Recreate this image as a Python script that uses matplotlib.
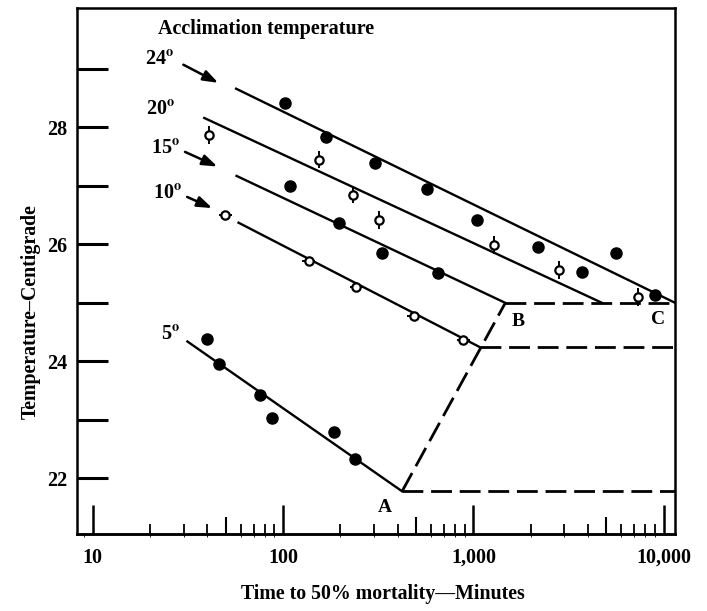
import numpy as np
import matplotlib.pyplot as plt
from matplotlib.ticker import FixedLocator, NullFormatter

plt.rcParams['font.family'] = ['Liberation Serif', 'DejaVu Serif']
plt.rcParams['font.weight'] = 'bold'
plt.rcParams['mathtext.fontset'] = 'stix'

# observed points: time to 50% mortality (min) and temperature (C)
t24 = [102, 169, 303, 570, 1045, 2188, 3740, 5640, 8980]
T24 = [28.41, 27.83, 27.39, 26.94, 26.42, 25.95, 25.53, 25.85, 25.14]
t20 = [41, 155, 232, 318, 1276, 2806, 7330]
T20 = [27.87, 27.45, 26.85, 26.42, 25.99, 25.56, 25.10]
t15 = [109, 197, 330, 649]
T15 = [27.00, 26.37, 25.86, 25.51]
t10 = [49.6, 136, 243, 485, 887]
T10 = [26.51, 25.72, 25.27, 24.78, 24.37]
t5 = [39.7, 46.1, 75.9, 87.3, 186, 239]
T5 = [24.38, 23.95, 23.43, 23.04, 22.79, 22.33]

# fitted lines (start, end)
line24_t, line24_T = [56.6, 11500], [28.66, 25.0]
line20_t, line20_T = [38.5, 4745], [28.16, 25.0]
line15_t, line15_T = [56.9, 1472], [27.17, 25.0]
line10_t, line10_T = [58.3, 1087], [26.37, 24.24]
line5_t, line5_T = [31.4, 422], [24.34, 21.78]

# corner points A, B and the right edge
A = (422, 21.78)
B = (1472, 25.0)
t_end = 11500

acc_labels = ['24', '20', '15', '10', '5']
acc_lab_t = [22.3, 22.6, 24.0, 24.6, 25.5]
acc_lab_T = [29.15, 28.30, 27.63, 26.86, 24.45]
# arrows for 24, 15, 10
arr_t0 = [29.9, 30.5, 31.3]
arr_T0 = [29.07, 27.58, 26.81]
arr_t1 = [45.6, 45.1, 42.4]
arr_T1 = [28.76, 27.33, 26.62]

fig = plt.figure(figsize=(7.07, 6.11), dpi=100)
ax = fig.add_axes([0.109, 0.126, 0.846, 0.861])
ax.set_xscale('log')
ax.set_xlim(8.26, t_end)
ax.set_ylim(21.05, 30.04)

lw = 1.7
for lt, lT in [(line24_t, line24_T), (line20_t, line20_T), (line15_t, line15_T),
               (line10_t, line10_T), (line5_t, line5_T)]:
    ax.plot(lt, lT, color='k', lw=lw, zorder=2)

dash = dict(color='k', lw=2.0, dashes=(7.5, 2.8), zorder=2)
ax.plot([A[0], B[0]], [A[1], B[1]], **dash)
ax.plot([A[0], t_end], [A[1], A[1]], **dash)
ax.plot([line10_t[1], t_end], [line10_T[1], line10_T[1]], **dash)
ax.plot([B[0], t_end], [B[1], B[1]], **dash)

# filled symbols
for tt, TT in [(t24, T24), (t15, T15), (t5, T5)]:
    ax.plot(tt, TT, 'o', color='k', ms=8, zorder=4)

# open symbols with vertical bars (20)
ax.errorbar(t20, T20, yerr=0.15, fmt='o', ms=6, mfc='white', mec='k', mew=1.6,
            ecolor='k', elinewidth=1.4, capsize=0, zorder=4)
# open symbols with horizontal bars (10)
t10a = np.array(t10)
xerr = [t10a - t10a / 10**0.035, t10a * 10**0.035 - t10a]
ax.errorbar(t10, T10, xerr=xerr, fmt='o', ms=6, mfc='white', mec='k', mew=1.6,
            ecolor='k', elinewidth=1.4, capsize=0, zorder=4)

for lab, x, y in zip(acc_labels, acc_lab_t, acc_lab_T):
    ax.text(x, y, lab + r'$^{\mathrm{o}}$', fontsize=14.5, ha='center', va='center')
for x0, y0, x1, y1 in zip(arr_t0, arr_T0, arr_t1, arr_T1):
    ax.annotate('', xy=(x1, y1), xytext=(x0, y0),
                arrowprops=dict(arrowstyle='-|>,head_length=0.9,head_width=0.32',
                                color='k', lw=1.8, shrinkA=0, shrinkB=0))

ax.text(22.0, 29.68, 'Acclimation temperature', fontsize=14.5, ha='left', va='center')
ax.text(344, 21.51, 'A', fontsize=14, ha='center', va='center')
ax.text(1722, 24.68, 'B', fontsize=14, ha='center', va='center')
ax.text(9380, 24.71, 'C', fontsize=14, ha='center', va='center')

# axes styling
for sp in ax.spines.values():
    sp.set_linewidth(1.8)

ax.yaxis.set_major_locator(FixedLocator([22, 24, 26, 28]))
ax.yaxis.set_minor_locator(FixedLocator([23, 25, 27, 29]))
ax.tick_params(axis='y', which='both', direction='in', length=22, width=2.2, pad=7,
               labelsize=14.5)

ax.xaxis.set_major_locator(FixedLocator([10, 100, 1000, 10000]))
ax.set_xticklabels(['10', '100', '1,000', '10,000'])
minors = [m * d for d in (10, 100, 1000) for m in (2, 3, 4, 6, 7, 8, 9)]
ax.xaxis.set_minor_locator(FixedLocator(minors))
ax.xaxis.set_minor_formatter(NullFormatter())
ax.tick_params(axis='x', which='major', direction='in', length=21, width=1.8, pad=10,
               labelsize=14.5)
ax.tick_params(axis='x', which='minor', direction='in', length=7, width=1.3)

sec = ax.secondary_xaxis('bottom')
sec.set_xticks([50, 500, 5000])
sec.set_xticklabels(['', '', ''])
sec.tick_params(axis='x', direction='in', length=12, width=1.5)
sec.spines['bottom'].set_linewidth(1.8)

fig.text(0.044, 0.49, 'Temperature\u2013Centigrade', rotation=90, fontsize=14.3,
         ha='center', va='center')
fig.text(0.542, 0.012, 'Time to 50% mortality\u2014Minutes', fontsize=14.3,
         ha='center', va='bottom')

fig.savefig('out.png', dpi=100)
